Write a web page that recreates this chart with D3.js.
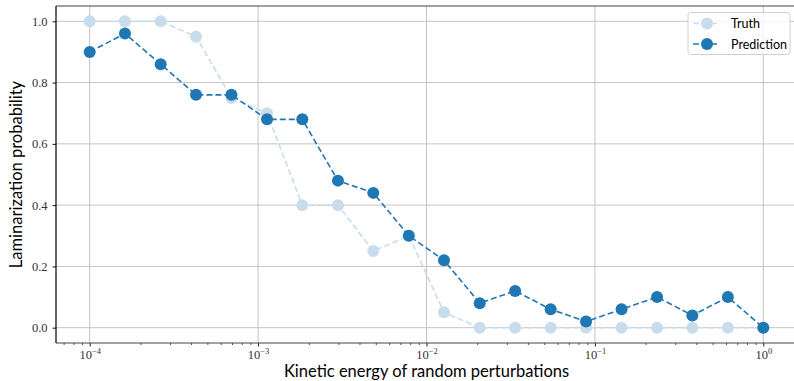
<!DOCTYPE html>
<html>
<head>
<meta charset="utf-8">
<script src="https://cdn.jsdelivr.net/npm/d3@7"></script>
<style>
  body { margin: 0; background: #fff; }
  svg { display: block; }
  .tick text { font-family: "Liberation Serif", "DejaVu Serif", serif; fill: #333; }
  .lbl { font-family: Lato, "DejaVu Sans", sans-serif; fill: #000; }
</style>
</head>
<body>
<svg width="794" height="381"></svg>
<script>
// kinetic energy of the perturbations (x), 20 log-spaced samples
let energy = [
  1e-4, 1.62e-4, 2.64e-4, 4.28e-4, 6.95e-4,
  1.13e-3, 1.83e-3, 2.98e-3, 4.83e-3, 7.85e-3,
  1.27e-2, 2.07e-2, 3.36e-2, 5.46e-2, 8.86e-2,
  0.144, 0.234, 0.379, 0.616, 1
]

let truth = [
  1.0, 1.0, 1.0, 0.95, 0.75, 0.70, 0.40, 0.40, 0.25, 0.30,
  0.05, 0, 0, 0, 0, 0, 0, 0, 0, 0
]

let prediction = [
  0.90, 0.96, 0.86, 0.76, 0.76, 0.68, 0.68, 0.48, 0.44, 0.30,
  0.22, 0.08, 0.12, 0.06, 0.02, 0.06, 0.10, 0.04, 0.10, 0.0
]

let xTicks = [1e-4, 1e-3, 1e-2, 1e-1, 1]
let xTickExp = ['\u22124', '\u22123', '\u22122', '\u22121', '0']
let yTicks = [0, 0.2, 0.4, 0.6, 0.8, 1.0]
let seriesNames = ['Truth', 'Prediction']
let seriesColors = ['#c9dcec', '#1f77b4']

const svg = d3.select('svg')
const pLeft = 56, pRight = 797, pTop = 6, pBottom = 343

const x = d3.scaleLog()
  .domain([Math.pow(10, -4.2), Math.pow(10, 0.2)])
  .range([pLeft, pRight])
const y = d3.scaleLinear()
  .domain([-0.05, 1.05])
  .range([pBottom, pTop])

// grid
svg.append('g')
  .selectAll('line')
  .data(xTicks)
  .enter()
  .append('line')
  .attr('x1', d => x(d)).attr('x2', d => x(d))
  .attr('y1', pTop).attr('y2', pBottom)
  .attr('stroke', '#c4c4c4').attr('stroke-width', 1)
svg.append('g')
  .selectAll('line')
  .data(yTicks)
  .enter()
  .append('line')
  .attr('x1', pLeft).attr('x2', pRight)
  .attr('y1', d => y(d)).attr('y2', d => y(d))
  .attr('stroke', '#c4c4c4').attr('stroke-width', 1)

// minor ticks on the log axis
let minor = []
for (let e = -5; e <= 0; e++) {
  for (let m = 2; m <= 9; m++) {
    let v = m * Math.pow(10, e)
    if (v > x.domain()[0] && v < x.domain()[1]) minor.push(v)
  }
}
svg.append('g')
  .attr('transform', `translate(0, ${pBottom})`)
  .call(d3.axisBottom(x).tickValues(minor).tickSize(2).tickFormat(''))
  .call(g => g.select('.domain').remove())
  .selectAll('line').attr('stroke', '#000').attr('stroke-width', 0.7)

// major x axis
const xAxis = svg.append('g')
  .attr('transform', `translate(0, ${pBottom})`)
  .call(d3.axisBottom(x).tickValues(xTicks).tickSize(3.5).tickFormat(''))
xAxis.select('.domain').remove()
xAxis.selectAll('.tick line').attr('stroke', '#000').attr('stroke-width', 0.9)
xAxis.selectAll('.tick').each(function (d, i) {
  const t = d3.select(this).append('text')
    .attr('y', 15.5)
    .attr('text-anchor', 'middle')
    .attr('font-size', 12.5)
  t.append('tspan').text('10')
  t.append('tspan').attr('dy', -5).attr('font-size', 8.5).text(xTickExp[i])
})

// y axis
const yAxis = svg.append('g')
  .attr('transform', `translate(${pLeft}, 0)`)
  .call(d3.axisLeft(y).tickValues(yTicks).tickSize(3.5).tickPadding(5).tickFormat(d3.format('.1f')))
yAxis.select('.domain').remove()
yAxis.selectAll('.tick line').attr('stroke', '#000').attr('stroke-width', 0.9)
yAxis.selectAll('.tick text').attr('font-size', 12.5)

// spines
svg.append('line').attr('x1', pLeft).attr('x2', pRight).attr('y1', pBottom).attr('y2', pBottom)
  .attr('stroke', '#444').attr('stroke-width', 1.2)
svg.append('line').attr('x1', pLeft).attr('x2', pRight).attr('y1', pTop).attr('y2', pTop)
  .attr('stroke', '#444').attr('stroke-width', 1.2)
svg.append('line').attr('x1', pLeft).attr('x2', pLeft).attr('y1', pTop).attr('y2', pBottom)
  .attr('stroke', '#000').attr('stroke-width', 1.2)

// series
const line = d3.line().x(d => x(d[0])).y(d => y(d[1]))
;[truth, prediction].forEach((vals, k) => {
  const pts = energy.map((e, i) => [e, vals[i]])
  svg.append('path')
    .datum(pts)
    .attr('d', line)
    .attr('fill', 'none')
    .attr('stroke', seriesColors[k])
    .attr('stroke-width', 1.6)
    .attr('stroke-dasharray', '6,3')
  svg.append('g')
    .selectAll('circle')
    .data(pts)
    .enter()
    .append('circle')
    .attr('cx', d => x(d[0]))
    .attr('cy', d => y(d[1]))
    .attr('r', 6)
    .attr('fill', seriesColors[k])
})

// axis labels
svg.append('text')
  .attr('class', 'lbl')
  .attr('x', (pLeft + pRight) / 2)
  .attr('y', 377)
  .attr('text-anchor', 'middle')
  .attr('font-size', 16.5)
  .text('Kinetic energy of random perturbations')
svg.append('text')
  .attr('class', 'lbl')
  .attr('transform', `translate(22, ${(pTop + pBottom) / 2}) rotate(-90)`)
  .attr('text-anchor', 'middle')
  .attr('font-size', 16.5)
  .text('Laminarization probability')

// legend
const legend = svg.append('g').attr('transform', 'translate(688, 12.5)')
legend.append('rect')
  .attr('width', 102).attr('height', 42).attr('rx', 2.5)
  .attr('fill', '#fff').attr('fill-opacity', 0.8)
  .attr('stroke', '#d0d0d0').attr('stroke-width', 1)
seriesNames.forEach((name, k) => {
  const g = legend.append('g').attr('transform', `translate(0, ${11 + k * 20.5})`)
  g.append('line').attr('x1', 5).attr('x2', 32).attr('y1', 0).attr('y2', 0)
    .attr('stroke', seriesColors[k]).attr('stroke-width', 1.6).attr('stroke-dasharray', '6,3')
  g.append('circle').attr('cx', 19).attr('cy', 0).attr('r', 6).attr('fill', seriesColors[k])
  g.append('text').attr('class', 'lbl').attr('x', 43).attr('y', 4.5)
    .attr('font-size', 12.5).text(name)
})
</script>
</body>
</html>
